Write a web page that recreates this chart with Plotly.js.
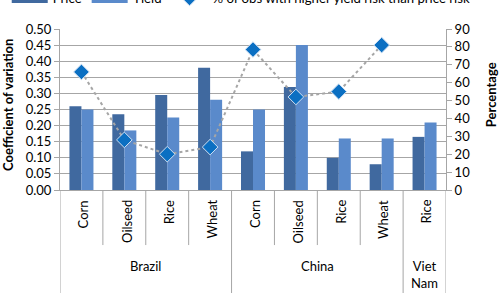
<!DOCTYPE html>
<html><head><meta charset="utf-8">
<script src="https://cdn.plot.ly/plotly-3.0.1.min.js"></script>
<style>html,body{margin:0;padding:0;background:#fff;overflow:hidden;width:504px;height:293px}#chart{width:544px;height:333px;margin-top:-40px;margin-left:-40px}</style>
</head><body><div id="chart"></div>
<script>
const countries = ["Brazil","Brazil","Brazil","Brazil","China","China","China","China","Viet Nam"];
const crops = ["Corn","Oilseed","Rice","Wheat","Corn","Oilseed","Rice","Wheat","Rice"];
const priceCV = [0.26,0.235,0.295,0.38,0.12,0.32,0.10,0.08,0.165];
const yieldCV = [0.25,0.185,0.225,0.28,0.25,0.45,0.16,0.16,0.21];
const pctHigherYieldRisk = [66,28,20,24,78.5,52,55,81,null];
const countryGroups = ["Brazil","China","Viet<br>Nam"];

const keys = crops.map((c,i)=>countries[i]+" "+c);
const font = "Lato, 'Open Sans', sans-serif";
const priceColor = "#40699f", yieldColor = "#5a8acb";
const D = 40, E = 40; // figure extends above and left of the visible window

const traces = [
  {type:"bar", name:"Price", x:keys, y:priceCV, marker:{color:priceColor}, showlegend:false},
  {type:"bar", name:"Yield", x:keys, y:yieldCV, marker:{color:yieldColor}, showlegend:false},
  {type:"scatter", mode:"lines", name:"Price", x:[null], y:[null], line:{color:priceColor, width:12}, hoverinfo:"skip"},
  {type:"scatter", mode:"lines", name:"Yield", x:[null], y:[null], line:{color:yieldColor, width:12}, hoverinfo:"skip"},
  {type:"scatter", mode:"lines+markers", name:"% of obs with higher yield risk than price risk",
   x:keys, y:pctHigherYieldRisk, yaxis:"y2",
   line:{color:"#a6a6a6", dash:"dot", width:2},
   marker:{symbol:"diamond", size:12, color:"#0b6fc2", line:{color:"#cfe0f3", width:1}}}
];

const ctx = document.createElement("canvas").getContext("2d");
ctx.font = "13px Lato";
const annotations = [];
const shapes = [];
crops.forEach((c,i)=>{
  const w = ctx.measureText(c).width;
  annotations.push({xref:"x", yref:"paper", x:i, y:0, yshift:-(10 + w/2), text:c, textangle:-90, showarrow:false,
    xanchor:"center", yanchor:"middle", xshift:2, font:{family:font, size:13, color:"#000"}});
});
const spans = [];
let start = 0;
for (let i=1;i<=countries.length;i++){
  if (i===countries.length || countries[i]!==countries[i-1]) { spans.push([start,i-1]); start=i; }
}
spans.forEach((s,k)=>{
  annotations.push({xref:"x", yref:"paper", x:(s[0]+s[1])/2, y:-0.41, text:countryGroups[k], showarrow:false,
    xanchor:"center", yanchor:"top", font:{family:font, size:13, color:"#000"}});
});
for (let i=0;i<=countries.length;i++){
  const isGroup = (i===0 || i===countries.length || countries[i]!==countries[i-1]);
  shapes.push({type:"line", xref:"x", yref:"paper", x0:i-0.5, x1:i-0.5, y0:0, y1: isGroup ? -0.64 : -0.342,
    line:{color:"#a6a6a6", width:1}});
}
annotations.push({xref:"paper", yref:"paper", x:-0.135, y:0.528, text:"<b>Coefficient of variation</b>",
  textangle:-90, showarrow:false, xanchor:"center", yanchor:"middle", font:{family:font, size:13, color:"#000"}});
annotations.push({xref:"paper", yref:"paper", x:1.117, y:0.59, text:"<b>Percentage</b>",
  textangle:-90, showarrow:false, xanchor:"center", yanchor:"middle", font:{family:font, size:13, color:"#000"}});

const layout = {
  width:504 + E, height:293 + D,
  margin:{l:60 + E, r:58, t:29 + D, b:103},
  paper_bgcolor:"#fff", plot_bgcolor:"#fff",
  font:{family:font, size:13, color:"#000"},
  barmode:"group", bargap:0.44, bargroupgap:0,
  showlegend:true,
  legend:{orientation:"h", x:-0.138, y:1.19, xanchor:"left", yanchor:"middle", itemwidth:36,
    font:{family:font, size:13.2, color:"#000"}, bgcolor:"rgba(0,0,0,0)", traceorder:"normal"},
  xaxis:{type:"category", showticklabels:false, ticks:"", showgrid:false, zeroline:false,
    showline:true, linecolor:"#a6a6a6", range:[-0.5,8.5]},
  yaxis:{range:[0,0.5], dtick:0.05, tickformat:".2f", showgrid:true, gridcolor:"#a6a6a6", gridwidth:1,
    zeroline:false, showline:true, linecolor:"#a6a6a6", ticks:"outside", ticklen:5, tickcolor:"#a6a6a6",
    tickfont:{family:font, size:13, color:"#000"}},
  yaxis2:{overlaying:"y", side:"right", range:[0,90], dtick:10, showgrid:false, zeroline:false,
    showline:true, linecolor:"#a6a6a6", ticks:"outside", ticklen:5, tickcolor:"#a6a6a6",
    tickfont:{family:font, size:13, color:"#000"}},
  annotations:annotations, shapes:shapes
};
Plotly.newPlot("chart", traces, layout, {displayModeBar:false, staticPlot:true});
</script></body></html>
